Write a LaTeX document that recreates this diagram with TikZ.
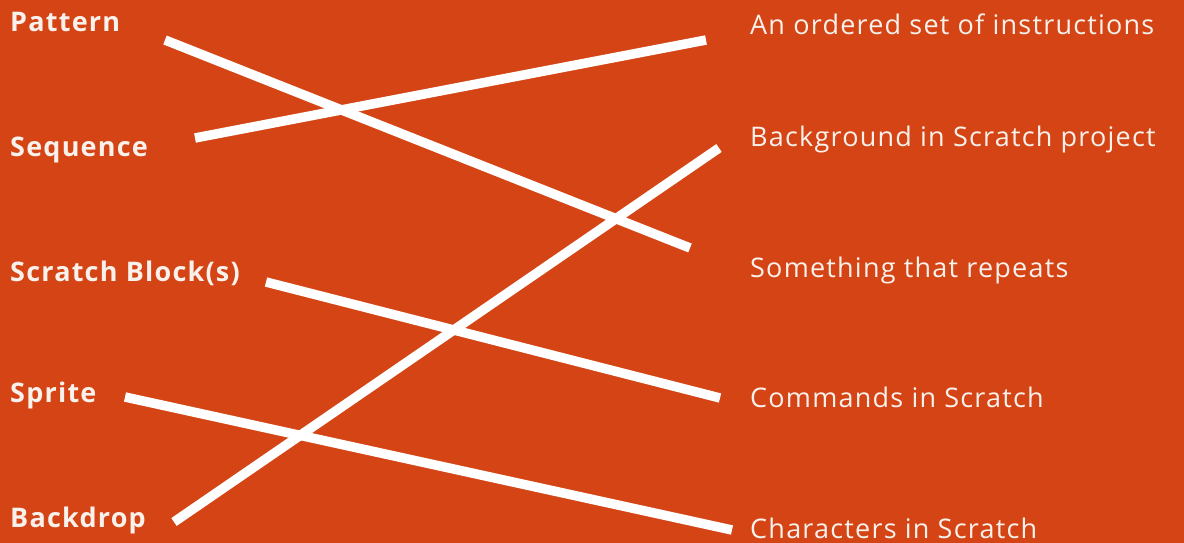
\documentclass[tikz,border=0pt]{standalone}
\usepackage{fontspec}
\setmainfont{Open Sans}[LetterSpace=4.5]
\definecolor{bgorange}{HTML}{D54414}
\definecolor{txtwhite}{HTML}{F8F1EC}
\begin{document}
\begin{tikzpicture}[x=1pt,y=-1pt,
  term/.style={anchor=base west,inner sep=0pt,text=txtwhite,font=\fontsize{27}{30}\selectfont\bfseries},
  defn/.style={anchor=base west,inner sep=0pt,text=txtwhite,font=\fontsize{27}{30}\selectfont},
  link/.style={draw=white,line width=9.5pt,line cap=butt}]
\fill[bgorange] (0,0) rectangle (1184,543);
\useasboundingbox (0,0) rectangle (1184,543);
% left terms
\node[term] (pattern) at (10,32) {Pattern};
\node[term] (sequence) at (10,156) {Sequence};
\node[term] (blocks) at (10,281) {Scratch Block(s)};
\node[term] (sprite) at (10,402) {Sprite};
\node[term] (backdrop) at (10,527) {Backdrop};
% right definitions
\node[defn] (ordered) at (750,35) {An ordered set of instructions};
\node[defn] (background) at (750,146) {Background in Scratch project};
\node[defn] (repeats) at (750,277) {Something that repeats};
\node[defn] (commands) at (750,407) {Commands in Scratch};
\node[defn] (characters) at (750,538) {Characters in Scratch};
% line end points
\coordinate (pA) at (165,40);  \coordinate (pB) at (690,248);
\coordinate (sA) at (195,138); \coordinate (sB) at (706,40);
\coordinate (bA) at (266,282); \coordinate (bB) at (720,398);
\coordinate (spA) at (125,397); \coordinate (spB) at (732,530);
\coordinate (bdA) at (174,522); \coordinate (bdB) at (719,148);
\draw[link] (pA) -- (pB);
\draw[link] (sA) -- (sB);
\draw[link] (bA) -- (bB);
\draw[link] (spA) -- (spB);
\draw[link] (bdA) -- (bdB);
\end{tikzpicture}
\end{document}
